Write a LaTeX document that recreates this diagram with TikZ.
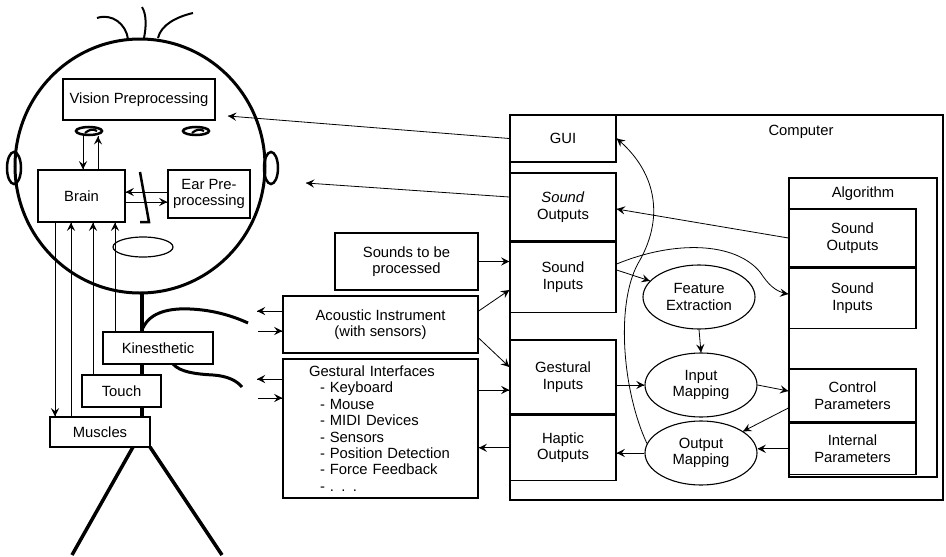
\documentclass[tikz,border=0pt]{standalone}
\usepackage{fontspec}
\setmainfont{Liberation Sans}
\usetikzlibrary{positioning, arrows.meta, decorations.markings, shapes.geometric}

\begin{document}
\begin{tikzpicture}[%
		x=1pt, y=-1pt,
		font=\fontsize{14.8}{16.5}\selectfont,
		block/.style={
			rectangle,
			line width=1.3pt,
			fill=white,
			inner sep=0pt,
			align=center,
			draw
		},
		process/.style={
			ellipse,
			line width=1.1pt,
			minimum width=112pt,
			minimum height=64pt,
			inner sep=0pt,
			align=center,
			draw
		},
		boxframe/.style={
			line width=1.7pt
		},
		eyeball/.style={
			ellipse,
			line width=2.5pt,
			minimum width=26pt,
			minimum height=8pt,
			inner sep=0pt,
			draw
		},
		stickman/.style={
			line width=3pt
		},
		flowarrow/.style={
			line width=0.8pt,
			decoration={markings,mark=at position 1 with {\arrow[scale=2,>=stealth]{>}}},
			postaction={decorate}
		}]

		\useasboundingbox (0,0) rectangle (946,557);

		% HEAD AND BODY

		\draw[stickman] (140,166) ellipse [x radius=125pt, y radius=127pt];
		\draw[stickman, line width=2.5pt] (14,168) ellipse [x radius=7pt, y radius=16pt];
		\draw[stickman, line width=2.5pt] (271,168) ellipse [x radius=7pt, y radius=16pt];
		\draw[stickman, line width=2pt] (97,18) .. controls (112,13) and (126,24) .. (128,39);
		\draw[stickman, line width=2pt] (142,7) .. controls (147,15) and (146,28) .. (144,38);
		\draw[stickman, line width=2pt] (193,13) .. controls (176,17) and (161,25) .. (158,38);
		\draw[stickman, line width=2.5pt] (140,172) -- (149,222) -- (140,222);
		\draw[line width=1.2pt] (143,247) ellipse [x radius=30pt, y radius=10pt];

		\draw[stickman, line width=4pt] (142,292) -- (142,418);
		\draw[stickman] (143,328) .. controls (150,312) and (170,308) .. (190,309) .. controls (215,310) and (235,317) .. (248,323);
		\draw[stickman] (173,364) .. controls (180,372) and (195,374) .. (213,375) .. controls (228,376) and (237,381) .. (242,387);
		\draw[stickman, line width=3.5pt] (133,447) -- (72,555);
		\draw[stickman, line width=3.5pt] (150,447) -- (222,555);

		\node (leye) [eyeball] at (89,131) {};
		\node (reye) [eyeball] at (196,131) {};
		\foreach \e in {leye,reye}
			\draw[line width=2.2pt] ([shift={(-4pt,-2pt)}]\e.center) .. controls ([shift={(0pt,1.5pt)}]\e.center) and ([shift={(4pt,2.5pt)}]\e.center) .. ([shift={(8pt,0pt)}]\e.center);

		\node (vision) [block, minimum width=152pt, minimum height=41pt] at (139,99.5) {Vision Preprocessing};
		\node (brain) [block, minimum width=87pt, minimum height=52pt] at (81.5,196) {Brain};
		\node (earpre) [block, minimum width=82pt, minimum height=48pt] at (209,194) {Ear Pre-\\processing};
		\node (kines) [block, minimum width=110pt, minimum height=32pt] at (158,348) {Kinesthetic};
		\node (touch) [block, minimum width=79pt, minimum height=32pt] at (121.5,391) {Touch};
		\node (muscles) [block, minimum width=100pt, minimum height=30pt] at (100,432) {Muscles};

		% INSTRUMENTS

		\node (sounds) [block, minimum width=143pt, minimum height=57pt] at (406.5,261.5) {Sounds to be\\processed};
		\node (acoustic) [block, minimum width=195pt, minimum height=57pt] at (380.5,324.5) {Acoustic Instrument\\(with sensors)};
		\node (gestif) [block, align=left, text width=143pt, inner xsep=26pt, minimum height=139pt,
			font=\fontsize{14.8}{16.4}\selectfont] at (380.5,428.5) {Gestural Interfaces\\
			\hspace*{11pt}- Keyboard\\
			\hspace*{11pt}- Mouse\\
			\hspace*{11pt}- MIDI Devices\\
			\hspace*{11pt}- Sensors\\
			\hspace*{11pt}- Position Detection\\
			\hspace*{11pt}- Force Feedback\\
			\hspace*{11pt}- . . .};

		% COMPUTER

		\draw[boxframe] (510,115) rectangle (943,500);
		\node (comptitle) at (801,132) {Computer};

		\node (gui) [block, minimum width=106pt, minimum height=47pt] at (563,138.5) {GUI};
		\node (soundout) [block, minimum width=106pt, minimum height=68pt] at (563,207) {\textit{Sound}\\Outputs};
		\node (soundin) [block, minimum width=106pt, minimum height=70pt, below=0pt of soundout] {Sound\\Inputs};
		\node (gestin) [block, minimum width=106pt, minimum height=74pt] at (563,377) {Gestural\\Inputs};
		\node (haptic) [block, minimum width=106pt, minimum height=65pt, below=0pt of gestin] {Haptic\\Outputs};

		\node (feature) [process] at (699,297) {Feature\\Extraction};
		\node (inmap) [process] at (701,385) {Input\\Mapping};
		\node (outmap) [process] at (701,453) {Output\\Mapping};

		% ALGORITHM

		\draw[boxframe] (789,178) rectangle (937,477);
		\node (algtitle) at (863,194) {Algorithm};

		\node (alsoundout) [block, minimum width=127pt, minimum height=58pt] at (852.5,238) {Sound\\Outputs};
		\node (alsoundin) [block, minimum width=127pt, minimum height=60pt, below=0pt of alsoundout] {Sound\\Inputs};
		\node (ctrl) [block, minimum width=127pt, minimum height=53pt] at (852.5,395.5) {Control\\Parameters};
		\node (internal) [block, minimum width=127pt, minimum height=51pt, below=0pt of ctrl] {Internal\\Parameters};

		\coordinate (visin) at (228,116);
		\coordinate (earin) at (306,183);
		\coordinate (acout) at (257,311);
		\coordinate (acin) at (258,331);
		\coordinate (gout) at (257,379);
		\coordinate (gin) at (258,398);

		% HEAD LINES

		\draw[flowarrow] (leye.south -| 83,0) -- (brain.north -| 83,0);
		\draw[flowarrow] (brain.north -| 98,0) -- (leye.south -| 98,0);
		\draw[flowarrow] (earpre.west |- 0,192) -- (brain.east |- 0,192);
		\draw[flowarrow] (brain.east |- 0,202) -- (earpre.west |- 0,202);
		\draw[flowarrow] (brain.south -| 55,0) -- (muscles.north -| 55,0);
		\draw[flowarrow] (muscles.north -| 71,0) -- (brain.south -| 71,0);
		\draw[flowarrow] (touch.north -| 93,0) -- (brain.south -| 93,0);
		\draw[flowarrow] (kines.north -| 115,0) -- (brain.south -| 115,0);

		% INSTRUMENT LINES

		\draw[flowarrow] (acoustic.west |- acout) -- (acout);
		\draw[flowarrow] (acin) -- (acoustic.west |- acin);
		\draw[flowarrow] (gestif.west |- gout) -- (gout);
		\draw[flowarrow] (gin) -- (gestif.west |- gin);
		\draw[flowarrow] (sounds.east) -- (soundin.west |- sounds.east);
		\draw[flowarrow] (acoustic.east |- 0,311) -- (soundin.west |- 0,290);
		\draw[flowarrow] (acoustic.east |- 0,338) -- (gestin.west |- 0,367);
		\draw[flowarrow] (gestif.east |- 0,390) -- (gestin.west |- 0,390);
		\draw[flowarrow] (haptic.west) -- (gestif.east |- haptic.west);

		% COMPUTER LINES

		\draw[flowarrow] (gui.west) -- (visin);
		\draw[flowarrow] (soundout.west |- 0,197) -- (earin);
		\draw[flowarrow] (alsoundout.west) -- (soundout.east |- 0,209);
		\draw[flowarrow] (soundin.east |- 0,270) -- (feature);
		\draw[flowarrow] (soundin.east |- 0,264) .. controls (675,240) and (735,242) .. (760,272) .. controls (768,284) and (775,292) .. (alsoundin.west |- 0,294);
		\draw[flowarrow] (feature.south) -- (inmap.north);
		\draw[flowarrow] (gestin.east |- inmap.west) -- (inmap.west);
		\draw[flowarrow] (inmap.east) -- (ctrl.west |- 0,391);
		\draw[flowarrow] (ctrl.west |- 0,408) -- (outmap);
		\draw[flowarrow] (internal.west) -- (outmap.east |- internal.west);
		\draw[flowarrow] (outmap.west) -- (haptic.east |- outmap.west);
		\draw[flowarrow] (outmap.170) .. controls (622,390) and (615,300) .. (640,260) .. controls (665,215) and (655,170) .. (gui.east);
\end{tikzpicture}
\end{document}
